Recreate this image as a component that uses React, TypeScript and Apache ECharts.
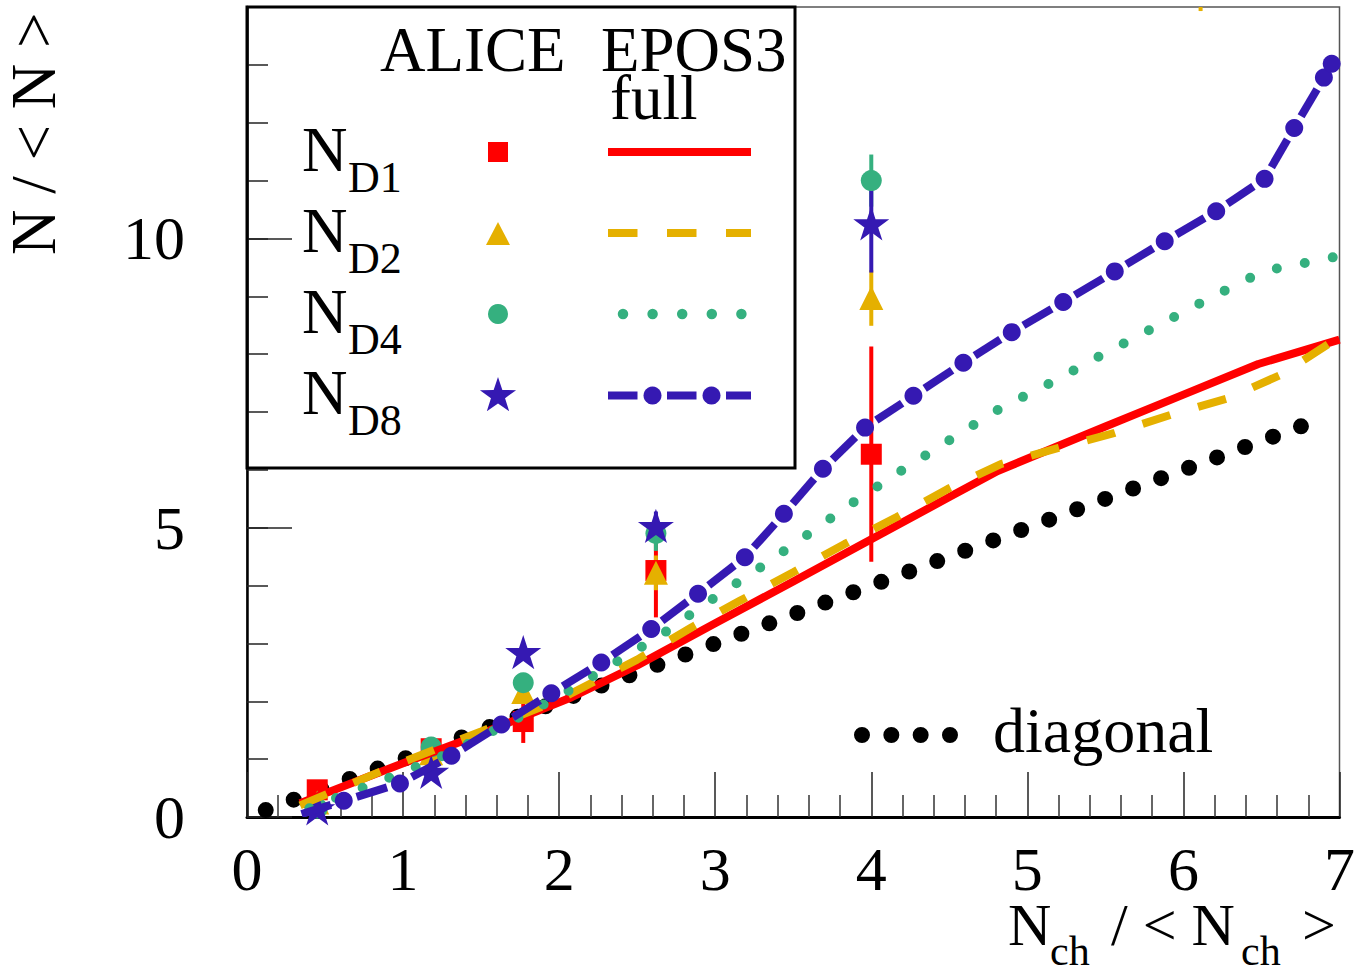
import React, { useEffect, useRef } from 'react';
import * as echarts from 'echarts';

const FONT = '"Liberation Serif", "Times New Roman", Times, serif';
const RED = '#FF0000';
const YELLOW = '#E5B000';
const GREEN = '#35B07F';
const BLUE = '#3519B2';

// axis ticks
const yTickLabels = [0, 5, 10];

// diagonal reference (y = x), endpoints
const diagX = [0.12, 6.79];
const diagY = [0.12, 6.79];

// EPOS3 full curves
const d1X = [0.34, 1.0, 1.43, 2.08, 2.5, 3.0, 3.5, 4.0, 4.5, 4.81, 5.5, 6.0, 6.48, 7.0];
const d1Y = [0.24, 0.93, 1.36, 2.07, 2.62, 3.35, 4.07, 4.8, 5.53, 5.98, 6.75, 7.3, 7.83, 8.25];

const d2X = [0.34, 1.0, 1.5, 2.0, 2.5, 2.85, 3.16, 3.5, 3.83, 4.16, 4.49, 4.83, 5.2, 5.56, 5.93, 6.29, 6.63, 7.0];
const d2Y = [0.2, 0.95, 1.48, 2.03, 2.72, 3.28, 3.74, 4.23, 4.72, 5.18, 5.67, 6.1, 6.38, 6.64, 6.96, 7.24, 7.65, 8.3];

const d4X = [0.4, 0.62, 0.97, 1.32, 1.65, 1.99, 2.31, 2.64, 2.94, 3.26, 3.57, 3.88, 4.19, 4.51, 4.83, 5.17, 5.5, 5.84, 6.17, 6.51, 6.69, 6.97];
const d4Y = [0.15, 0.38, 0.74, 1.13, 1.59, 2.07, 2.59, 3.12, 3.69, 4.26, 4.84, 5.43, 5.98, 6.53, 7.07, 7.53, 8.02, 8.5, 8.97, 9.43, 9.53, 9.68];

const d8X = [0.35, 0.62, 0.98, 1.31, 1.63, 1.95, 2.27, 2.59, 2.89, 3.19, 3.44, 3.69, 3.96, 4.27, 4.59, 4.9, 5.23, 5.56, 5.88, 6.21, 6.52, 6.71, 6.9, 6.95, 7.0];
const d8Y = [0.05, 0.28, 0.58, 1.06, 1.6, 2.14, 2.67, 3.25, 3.86, 4.49, 5.24, 6.02, 6.73, 7.28, 7.85, 8.38, 8.9, 9.43, 9.95, 10.47, 11.03, 11.91, 12.78, 13.02, 13.2];

// ALICE data points
const aliceX = [0.45, 1.18, 1.77, 2.62, 4.0];
const aliceD1 = [0.47, 1.18, 1.65, 4.26, 6.27];
const aliceD1Err = [0.03, 0.05, 0.37, 0.81, 1.86];
const aliceD2 = [0.25, 1.1, 2.16, 4.22, 8.97];
const aliceD2Err = [0.03, 0.05, 0.15, 0.3, 0.48];
const aliceD4 = [0.15, 1.21, 2.32, 4.9, 11.0];
const aliceD4Err = [0.03, 0.05, 0.15, 0.3, 0.45];
const aliceD8 = [0.15, 0.78, 2.85, 5.03, 10.26];
const aliceD8Err = [0.03, 0.05, 0.15, 0.25, 0.85];
// off-scale ALICE N_D2 error bar visible at the top edge
const offX = [6.11];
const offLo = [13.93];
const offHi = [14.6];

const STAR = 'path://M0,-50L11.2,-15.5L47.6,-15.5L18.2,6L29.4,40.5L0,19L-29.4,40.5L-18.2,6L-47.6,-15.5L-11.2,-15.5Z';

function starPoints(cx: number, cy: number, R: number) {
  const r = R * 0.39;
  const pts: number[][] = [];
  for (let k = 0; k < 10; k++) {
    const a = -Math.PI / 2 + (k * Math.PI) / 5;
    const rr = k % 2 === 0 ? R : r;
    pts.push([cx + rr * Math.cos(a), cy + rr * Math.sin(a)]);
  }
  return pts;
}

function errSeries(xs: number[], lo: number[], hi: number[], color: string, width: number, z: number) {
  return {
    type: 'custom',
    z,
    clip: true,
    silent: true,
    renderItem: (params: any, api: any) => {
      const p1 = api.coord([api.value(0), api.value(1)]);
      const p2 = api.coord([api.value(0), api.value(2)]);
      return {
        type: 'line',
        shape: { x1: p1[0], y1: p1[1], x2: p2[0], y2: p2[1] },
        style: { stroke: color, lineWidth: width },
      };
    },
    encode: { x: 0, y: [1, 2] },
    data: xs.map((x, i) => [x, lo[i], hi[i]]),
  };
}

function aliceSeries(ys: number[], errs: number[], color: string, symbol: string, size: number, z: number) {
  return [
    errSeries(
      aliceX,
      ys.map((y, i) => y - errs[i]),
      ys.map((y, i) => y + errs[i]),
      color,
      4,
      z
    ),
    {
      type: 'scatter',
      z,
      symbol,
      symbolSize: size,
      symbolKeepAspect: true,
      itemStyle: { color, opacity: 1 },
      data: aliceX.map((x, i) => [x, ys[i]]),
    },
  ];
}

const GAP = 13.5;

export default function App() {
  const ref = useRef<HTMLDivElement>(null);
  useEffect(() => {
    document.body.style.margin = '0';
    const chart = echarts.init(ref.current!, null, { renderer: 'svg' });

    const txt = (text: string, x: number, y: number, size: number, extra: any = {}) => ({
      type: 'text',
      x,
      y,
      z: 100,
      style: {
        text,
        fontSize: size,
        fontFamily: FONT,
        lineHeight: Math.round(size * 0.72),
        fill: '#000',
        align: 'left',
        verticalAlign: 'middle',
      },
      ...extra,
    });

    const rows = [
      { sub: 'D1', y: 150 },
      { sub: 'D2', y: 231 },
      { sub: 'D4', y: 312 },
      { sub: 'D8', y: 393 },
    ];

    const graphic: any[] = [
      {
        type: 'rect',
        z: 100,
        shape: { x: 247, y: 7, width: 548, height: 461 },
        style: { fill: 'none', stroke: '#000', lineWidth: 3 },
      },
      txt('ALICE', 380, 50, 63),
      txt('EPOS3', 601, 50, 63),
      txt('full', 610, 98, 63),
      ...rows.flatMap((r) => [txt('N', 302, r.y, 63), txt(r.sub, 348, r.y + 27, 44)]),
      // markers
      { type: 'rect', z: 100, shape: { x: 488, y: 142, width: 20, height: 20 }, style: { fill: RED } },
      { type: 'polygon', z: 100, shape: { points: [[498, 222], [510, 245], [486, 245]] }, style: { fill: YELLOW } },
      { type: 'circle', z: 100, shape: { cx: 498, cy: 314, r: 10 }, style: { fill: GREEN } },
      { type: 'polygon', z: 100, shape: { points: starPoints(498, 396, 19) }, style: { fill: BLUE } },
      // line samples
      { type: 'line', z: 100, shape: { x1: 608, y1: 152, x2: 751, y2: 152 }, style: { stroke: RED, lineWidth: 8 } },
      {
        type: 'line', z: 100, shape: { x1: 608, y1: 233, x2: 751, y2: 233 },
        style: { stroke: YELLOW, lineWidth: 8, lineDash: [29.5, 29.5] },
      },
      {
        type: 'line', z: 100, shape: { x1: 623, y1: 314, x2: 742, y2: 314 },
        style: { stroke: GREEN, lineWidth: 10.5, lineDash: [0, 29.6], lineCap: 'round' },
      },
      {
        type: 'line', z: 100, shape: { x1: 608, y1: 395.5, x2: 751, y2: 395.5 },
        style: { stroke: BLUE, lineWidth: 8, lineDash: [29.5, 29.5] },
      },
      { type: 'circle', z: 100, shape: { cx: 652.5, cy: 395.5, r: 9 }, style: { fill: BLUE } },
      { type: 'circle', z: 100, shape: { cx: 711.5, cy: 395.5, r: 9 }, style: { fill: BLUE } },
      // diagonal legend
      {
        type: 'line', z: 100, shape: { x1: 862, y1: 735, x2: 950, y2: 735 },
        style: { stroke: '#000', lineWidth: 16, lineDash: [0, 29.33], lineCap: 'round' },
      },
      txt('diagonal', 993, 730, 64),
      // y axis title
      txt('N / < N >', 34, 255, 63, { rotation: Math.PI / 2 }),
      // x axis title
      txt('N', 1008, 925, 60),
      txt('ch', 1050, 951, 42),
      txt('/ < N', 1111, 925, 60),
      txt('ch', 1241, 951, 42),
      txt('>', 1302, 925, 60),
    ];

    const series: any[] = [
      {
        type: 'line',
        z: 2,
        symbol: 'none',
        silent: true,
        lineStyle: { color: '#000', width: 16, type: [0, 29.84], cap: 'round' },
        data: diagX.map((x, i) => [x, diagY[i]]),
      },
      ...aliceSeries(aliceD1, aliceD1Err, RED, 'rect', 21, 3),
      ...aliceSeries(aliceD2, aliceD2Err, YELLOW, 'triangle', 24, 3),
      errSeries(offX, offLo, offHi, YELLOW, 4, 3),
      ...aliceSeries(aliceD4, aliceD4Err, GREEN, 'circle', 21, 3),
      ...aliceSeries(aliceD8, aliceD8Err, BLUE, STAR, 36, 3),
      {
        type: 'line',
        z: 4,
        symbol: 'none',
        silent: true,
        lineStyle: { color: RED, width: 8, join: 'round' },
        data: d1X.map((x, i) => [x, d1Y[i]]),
      },
      {
        type: 'line',
        z: 5,
        symbol: 'none',
        silent: true,
        lineStyle: { color: YELLOW, width: 8, type: [29, 29] },
        data: d2X.map((x, i) => [x, d2Y[i]]),
      },
      {
        type: 'line',
        z: 6,
        symbol: 'none',
        silent: true,
        lineStyle: { color: GREEN, width: 10, type: [0, 28.5], cap: 'round' },
        data: d4X.map((x, i) => [x, d4Y[i]]),
      },
      {
        type: 'custom',
        z: 7,
        clip: true,
        silent: true,
        renderItem: (params: any, api: any) => {
          const i = params.dataIndexInside;
          const n = params.dataInsideLength;
          if (i >= n - 1) return { type: 'group', children: [] };
          const a = api.coord([api.value(0, i), api.value(1, i)]);
          const b = api.coord([api.value(0, i + 1), api.value(1, i + 1)]);
          const dx = b[0] - a[0];
          const dy = b[1] - a[1];
          const L = Math.hypot(dx, dy);
          const s0 = i > 0 ? GAP : 0;
          const s1 = i + 1 < n - 1 ? GAP : 0;
          if (L <= s0 + s1 + 2) return { type: 'group', children: [] };
          const ux = dx / L;
          const uy = dy / L;
          return {
            type: 'line',
            shape: { x1: a[0] + ux * s0, y1: a[1] + uy * s0, x2: b[0] - ux * s1, y2: b[1] - uy * s1 },
            style: { stroke: BLUE, lineWidth: 8 },
          };
        },
        encode: { x: 0, y: 1 },
        data: d8X.map((x, i) => [x, d8Y[i]]),
      },
      {
        type: 'scatter',
        z: 7,
        symbol: 'circle',
        symbolSize: 18,
        silent: true,
        itemStyle: { color: BLUE, opacity: 1 },
        data: d8X.slice(1, -1).map((x, i) => [x, d8Y[i + 1]]),
      },
    ];

    chart.setOption({
      animation: false,
      backgroundColor: '#fff',
      grid: {
        left: 247,
        right: 16,
        top: 7,
        bottom: 158,
        show: true,
        borderColor: '#555',
        borderWidth: 1.5,
      },
      xAxis: {
        type: 'value',
        min: 0,
        max: 7,
        interval: 1,
        axisLine: { lineStyle: { color: '#000', width: 3 } },
        axisTick: { inside: true, length: 45, lineStyle: { color: '#222', width: 1.5 } },
        minorTick: { show: true, splitNumber: 5, length: 22, lineStyle: { color: '#333', width: 1.5 } },
        splitLine: { show: false },
        axisLabel: { fontFamily: FONT, fontSize: 62, lineHeight: 46, color: '#000', margin: 29 },
      },
      yAxis: [
        {
          type: 'value',
          min: 0,
          max: 14,
          interval: 1,
          position: 'left',
          axisLine: { lineStyle: { color: '#000', width: 2.5 } },
          axisTick: { inside: true, length: 21, lineStyle: { color: '#222', width: 1.5 } },
          splitLine: { show: false },
          axisLabel: {
            fontFamily: FONT,
            fontSize: 62,
            color: '#000',
            margin: 62,
            formatter: (v: number) => (yTickLabels.indexOf(v) >= 0 ? String(v) : ''),
          },
        },
        {
          type: 'value',
          min: 0,
          max: 14,
          interval: 5,
          position: 'left',
          offset: 0,
          axisLine: { show: false },
          axisTick: { inside: true, length: 45, customValues: yTickLabels, lineStyle: { color: '#222', width: 1.5 } },
          splitLine: { show: false },
          axisLabel: { show: false },
        },
      ],
      graphic,
      series,
    });
    return () => chart.dispose();
  }, []);
  return <div ref={ref} style={{ width: 1358, height: 975 }} />;
}
